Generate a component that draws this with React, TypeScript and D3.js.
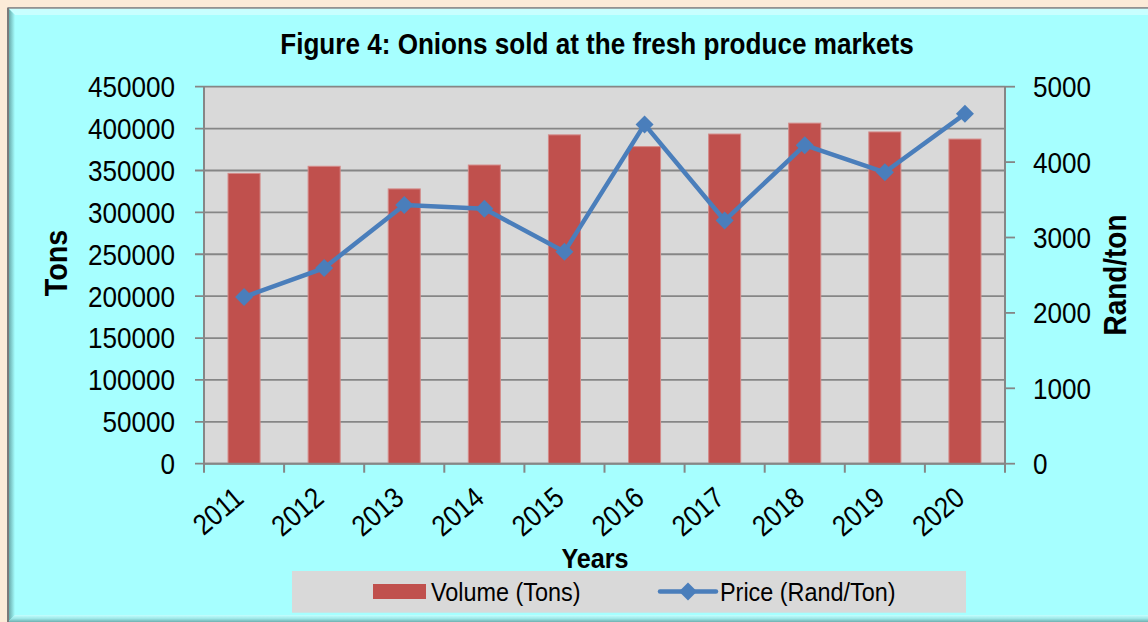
import React from 'react';
import * as d3 from 'd3';

const years = ['2011', '2012', '2013', '2014', '2015', '2016', '2017', '2018', '2019', '2020'];
const volume = [346500, 355000, 328000, 356500, 392500, 378500, 393500, 406500, 396000, 387500];
const price = [2210, 2595, 3430, 3380, 2810, 4500, 3225, 4225, 3865, 4640];
const leftTicks = [0, 50000, 100000, 150000, 200000, 250000, 300000, 350000, 400000, 450000];
const rightTicks = [0, 1000, 2000, 3000, 4000, 5000];

const W = 1148;
const H = 622;
const PL = 204, PR = 1005, PT = 86.7, PB = 463.7;
const FONT = 'Liberation Sans, Arial, sans-serif';
const GRID = '#868686';

function T(props: any) {
  const { x, y, size, weight, anchor, rotate, fill, children, sx } = props;
  return (
    <text
      transform={`translate(${x},${y}) rotate(${rotate || 0}) scale(${sx ?? 0.9},1)`}
      fontFamily={FONT}
      fontSize={size}
      fontWeight={weight || 'normal'}
      textAnchor={anchor || 'start'}
      fill={fill || '#000'}
    >
      {children}
    </text>
  );
}

export default function App() {
  const x = d3.scaleBand<string>().domain(years).range([PL, PR]).padding(0);
  const yL = d3.scaleLinear().domain([0, 450000]).range([PB, PT]);
  const yR = d3.scaleLinear().domain([0, 5000]).range([PB, PT]);
  const step = x.step();
  const barW = step * 0.4;
  const cx = (d: string) => (x(d) as number) + step / 2;

  const line = d3
    .line<number>()
    .x((_, i) => cx(years[i]))
    .y((d) => yR(d));

  const diamond = (px: number, py: number, r: number) =>
    `M${px},${py - r}L${px + r},${py}L${px},${py + r}L${px - r},${py}Z`;

  return (
    <svg
      width={W}
      height={H}
      style={{ position: 'absolute', left: 0, top: 0 }}
    >
      <defs>
        <linearGradient id="lb" x1="0" x2="1" y1="0" y2="0">
          <stop offset="0" stopColor="#5f9e9e" />
          <stop offset="1" stopColor="#a6ffff" />
        </linearGradient>
        <linearGradient id="bb" x1="0" x2="0" y1="0" y2="1">
          <stop offset="0" stopColor="#c4ffff" />
          <stop offset="0.5" stopColor="#9ee8e8" />
          <stop offset="1" stopColor="#6fb0b0" />
        </linearGradient>
      </defs>
      <rect x={0} y={0} width={W} height={H} fill="#fbebd8" />
      <rect x={8} y={8} width={W} height={H} fill="#a6ffff" stroke="#8c8c8c" strokeWidth={1.5} />
      <polygon points={`8,8 ${W},8 ${W},15 15,15`} fill="#c8ffff" />
      <polygon points={`8,8 15,15 15,${H - 7} 8,${H}`} fill="url(#lb)" />
      <polygon points={`8,${H} 15,${H - 7} ${W},${H - 7} ${W},${H}`} fill="url(#bb)" />
      <line x1={8} y1={8} x2={W} y2={8} stroke="#8c8c8c" strokeWidth={1.5} />
      <line x1={8} y1={8} x2={8} y2={H} stroke="#7a7a7a" strokeWidth={2} />

      <T x={597} y={54} size={29} weight="bold" anchor="middle">
        Figure 4: Onions sold at the fresh produce markets
      </T>

      {/* plot area */}
      <rect x={PL} y={PT} width={PR - PL} height={PB - PT} fill="#d9d9d9" />
      {leftTicks.map((t) => (
        <line key={'g' + t} x1={PL - 9} x2={PR} y1={yL(t)} y2={yL(t)} stroke={GRID} strokeWidth={1.8} />
      ))}
      {rightTicks.map((t) => (
        <line key={'r' + t} x1={PR} x2={PR + 10} y1={yR(t)} y2={yR(t)} stroke={GRID} strokeWidth={1.8} />
      ))}

      {years.map((d, i) => (
        <rect
          key={'b' + d}
          x={cx(d) - barW / 2}
          y={yL(volume[i])}
          width={barW}
          height={PB - yL(volume[i])}
          fill="#c0504d"
          stroke="#d48a88"
          strokeWidth={1}
        />
      ))}

      <line x1={PL} x2={PL} y1={PT} y2={PB} stroke={GRID} strokeWidth={2} />
      <line x1={PR} x2={PR} y1={PT} y2={PB + 9} stroke={GRID} strokeWidth={2} />
      <line x1={PL} x2={PR} y1={PB} y2={PB} stroke={GRID} strokeWidth={2} />
      {years.map((d) => (
        <line key={'xt' + d} x1={x(d) as number} x2={x(d) as number} y1={PB} y2={PB + 9} stroke={GRID} strokeWidth={2} />
      ))}

      <path d={line(price) || ''} fill="none" stroke="#4a7ebb" strokeWidth={4.5} strokeLinejoin="round" />
      {price.map((p, i) => (
        <path key={'m' + i} d={diamond(cx(years[i]), yR(p), 9)} fill="#4a7ebb" />
      ))}

      {leftTicks.map((t) => (
        <T key={'lt' + t} x={175} y={yL(t) + 10.4} size={29} anchor="end">
          {String(t)}
        </T>
      ))}
      {rightTicks.map((t) => (
        <T key={'rt' + t} x={1033} y={yR(t) + 10.4} size={29}>
          {String(t)}
        </T>
      ))}

      {years.map((d) => (
        <T key={'xl' + d} x={cx(d) - 12} y={485} size={29} anchor="end" rotate={-40} sx={0.88}>
          <tspan dy="0.72em">{d}</tspan>
        </T>
      ))}

      <T x={67} y={263} size={32} weight="bold" anchor="middle" rotate={-90}>
        Tons
      </T>
      <T x={1126} y={275} size={31} weight="bold" anchor="middle" rotate={-90}>
        Rand/ton
      </T>
      <T x={595} y={568} size={28} weight="bold" anchor="middle">
        Years
      </T>

      {/* legend */}
      <rect x={292} y={571} width={674} height={41.7} fill="#d9d9d9" />
      <rect x={373} y={584} width={53} height={15} fill="#c0504d" />
      <T x={431} y={601} size={26}>
        Volume (Tons)
      </T>
      <line x1={660} x2={716} y1={591.5} y2={591.5} stroke="#4a7ebb" strokeWidth={4.5} strokeLinecap="round" />
      <path d={diamond(688, 591.5, 9)} fill="#4a7ebb" />
      <T x={720} y={601} size={26}>
        Price (Rand/Ton)
      </T>
    </svg>
  );
}
